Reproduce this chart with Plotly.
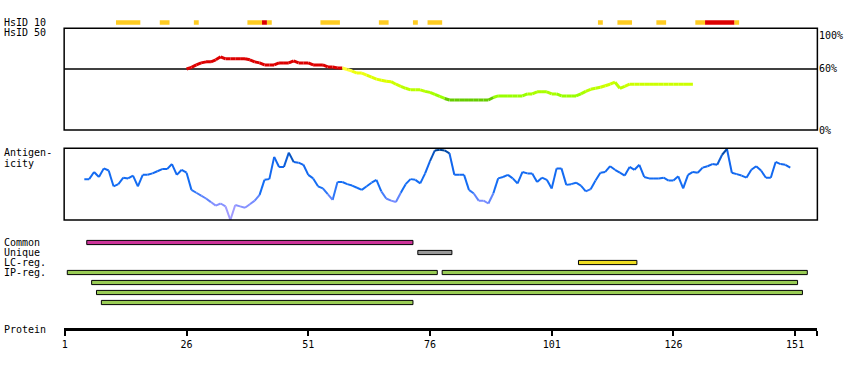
import plotly.graph_objects as go

# ---------------- data ----------------
# HsID 10 identity track (residue ranges)
hsid10_orange = [(12, 16), (21, 22), (28, 28), (39, 41), (43, 43), (54, 57), (66, 67),
                 (73, 73), (76, 78), (111, 111), (115, 117), (123, 124), (131, 132), (139, 139)]
hsid10_red = [(42, 42), (133, 138)]

# HsID 50 identity profile (%)
hsid50_start = 26
hsid50_values = [
    60, 61.6, 64, 66, 67, 67, 69, 72, 70, 70,
    70, 70, 70, 69, 67, 66, 64, 64, 64, 66,
    66, 66, 68, 66, 66, 66, 64, 64, 64, 62,
    62, 61, 61, 59.5, 58, 56, 56, 54, 52, 50,
    49, 48, 47.5, 45, 43, 41, 39.5, 39.5, 39.5, 38,
    37, 35, 33, 31, 29.5, 29.5, 29.5, 29.5, 29.5, 29.5,
    29.5, 29.5, 29.5, 32, 33.5, 33.5, 33.5, 33.5, 33.5, 33.5,
    35.5, 35.5, 37.5, 37.5, 37.5, 35.5, 35.5, 33.5, 33.5, 33.5,
    33.5, 35.5, 38, 40, 41, 42, 43.5, 45, 47, 41,
    43, 45, 45, 45, 45, 45, 45, 45, 45, 45,
    45, 45, 45, 45, 45,
]

# Antigenicity profile (relative 0-100)
antigen_start = 5
antigen_values = [
    57, 57, 67, 60, 72, 69, 47, 50, 59, 58,
    62, 47, 63, 63, 65, 68, 71, 71, 78, 63,
    70, 66, 42, 38, 34, 30, 25, 20, 23, 19,
    0, 21, 19, 17, 22, 27, 35, 56, 57, 88,
    74, 74, 94, 81, 80, 77, 63, 58, 47, 44,
    36, 28, 53, 53, 50, 48, 45, 42, 47, 52,
    56, 40, 30, 27, 25, 38, 50, 57, 56, 51,
    65, 82, 97, 98, 97, 93, 63, 63, 63, 42,
    37, 27, 27, 23, 37, 58, 60, 63, 58, 51,
    67, 65, 65, 53, 59, 56, 44, 72, 72, 49,
    50, 52, 48, 40, 43, 55, 66, 67, 75, 70,
    66, 62, 74, 70, 77, 60, 58, 58, 58, 59,
    55, 55, 61, 44, 63, 67, 66, 73, 75, 78,
    77, 91, 99, 66, 64, 62, 59, 70, 75, 69,
    59, 59, 81, 78, 77, 73,
]

# Region tracks
track_labels = ["Common", "Unique", "LC-reg.", "IP-reg."]
common_regions = [(6, 72)]
unique_regions = [(74, 80)]
lc_regions = [(107, 118)]
ip_regions = [[(2, 77), (79, 153)], [(7, 151)], [(8, 152)], [(9, 72)]]

tick_values = [1, 26, 51, 76, 101, 126, 151]
tick_labels = ["1", "26", "51", "76", "101", "126", "151"]
protein_end = 155.4
pct_labels = [(100, "100%"), (60, "60%"), (0, "0%")]
threshold = 60

# ---------------- layout constants ----------------
W, H = 850, 370
PX_PER_RES = 4.88
X_RES1 = 63.0
FONT = "DejaVu Sans Mono"


def py(Y):
    return (H - Y) / H


def res_at(X):
    return 1 + (X - X_RES1) / PX_PER_RES


FRAME_L, FRAME_R = 62.3, 817.3

fig = go.Figure()


def lerp_color(v, anchors):
    anchors = sorted(anchors)
    if v <= anchors[0][0]:
        c = anchors[0][1]
    elif v >= anchors[-1][0]:
        c = anchors[-1][1]
    else:
        for (v0, c0), (v1, c1) in zip(anchors[:-1], anchors[1:]):
            if v0 <= v <= v1:
                t = (v - v0) / (v1 - v0)
                c = tuple(round(a + (b - a) * t) for a, b in zip(c0, c1))
                break
    return "rgb(%d,%d,%d)" % c


def hsid_color(v):
    if v >= 60:
        return "#DD0000"
    bins = [(57, "#FFFF33"), (53, "#EEFF11"), (47, "#DDFF00"), (42, "#CCFF00"),
            (38, "#BBFF00"), (34, "#AAFF00"), (30, "#99FF00")]
    for lo, col in bins:
        if v >= lo:
            return col
    return "#66CC00"


antigen_anchors = [(0, (185, 165, 255)), (25, (120, 140, 255)), (45, (20, 110, 245)),
                   (80, (17, 102, 238)), (100, (0, 68, 150))]


def add_segments(start, values, color_fn, yaxis, width):
    groups = {}
    for i in range(len(values) - 1):
        col = color_fn(values[i], values[i + 1])
        xs, ys = groups.setdefault(col, ([], []))
        xs += [start + i, start + i + 1, None]
        ys += [values[i], values[i + 1], None]
    for col, (xs, ys) in groups.items():
        fig.add_trace(go.Scatter(x=xs, y=ys, mode="lines", yaxis=yaxis,
                                 line=dict(color=col, width=width),
                                 hoverinfo="skip", showlegend=False))


# HsID 50 line
add_segments(hsid50_start, hsid50_values, lambda a, b: hsid_color(min(a, b)), "y", 3)

# Antigenicity line
add_segments(antigen_start, antigen_values,
             lambda a, b: lerp_color(round((a + b) / 2 / 5) * 5, antigen_anchors), "y2", 2)


def add_bars(regions, row, yaxis, color, outline, width):
    fig.add_trace(go.Bar(
        orientation="h",
        y=[row] * len(regions),
        x=[e - s + 1 for s, e in regions],
        base=[s - 0.5 for s, e in regions],
        width=width,
        yaxis=yaxis,
        marker=dict(color=color, line=dict(color="black", width=1 if outline else 0)),
        hoverinfo="skip", showlegend=False))


# HsID 10 track
add_bars(hsid10_orange, 0, "y4", "#FFCC22", False, 0.45)
add_bars(hsid10_red, 0, "y4", "#DD0000", False, 0.45)

# region tracks
add_bars(common_regions, 0, "y3", "#CC3399", True, 0.42)
add_bars(unique_regions, 1, "y3", "#999999", True, 0.42)
add_bars(lc_regions, 2, "y3", "#EEDD22", True, 0.42)
for k, regs in enumerate(ip_regions):
    add_bars(regs, 3 + k, "y3", "#99CC55", True, 0.42)

# axes
hidden = dict(visible=False, fixedrange=True)
fig.update_layout(
    width=W, height=H, autosize=False,
    margin=dict(l=0, r=0, t=0, b=0, pad=0),
    paper_bgcolor="white", plot_bgcolor="white",
    barmode="overlay", showlegend=False,
    xaxis=dict(domain=[FRAME_L / W, FRAME_R / W],
               range=[res_at(FRAME_L), res_at(FRAME_R)],
               anchor="free", position=py(329.3),
               showline=True, linewidth=3, linecolor="black",
               ticks="outside", ticklen=5, tickwidth=2, tickcolor="black",
               tickvals=tick_values + [protein_end], ticktext=tick_labels + [""],
               tickfont=dict(family=FONT, size=10, color="black"),
               showgrid=False, zeroline=False, fixedrange=True),
    yaxis=dict(domain=[py(130), py(28.3)], range=[0, 100], **hidden),
    yaxis2=dict(domain=[py(220), py(148.3)], range=[0, 100], **hidden),
    yaxis3=dict(domain=[py(307.5), py(237.5)], range=[6.5, -0.5], **hidden),
    yaxis4=dict(domain=[py(27.5), py(17.5)], range=[-0.5, 0.5], **hidden),
)

# frames and threshold line
for yref in ["y domain", "y2 domain"]:
    fig.add_shape(type="rect", xref="x domain", yref=yref, x0=0, x1=1, y0=0, y1=1,
                  line=dict(color="black", width=1.5), layer="above")
fig.add_shape(type="line", xref="x domain", yref="y", x0=0, x1=1, y0=threshold, y1=threshold,
              line=dict(color="black", width=1.5), layer="below")

# text labels
def label(text, Y, X=0):
    fig.add_annotation(text=text, xref="paper", yref="paper", x=X / W, y=py(Y),
                       xanchor="left", yanchor="middle", showarrow=False,
                       font=dict(family=FONT, size=10, color="black"))


label("HsID 10", 22.5)
label("HsID 50", 33)
label("Antigen-", 152.7)
label("icity", 163.3)
for i, t in enumerate(track_labels):
    label(t, 242.5 + 10 * i)
label("Protein", 329.5)

for v, t in pct_labels:
    fig.add_annotation(text=t, xref="paper", yref="y", x=817 / W, y=v,
                       xanchor="left", yanchor="top" if v == 100 else "middle",
                       showarrow=False, font=dict(family=FONT, size=10, color="black"))

fig.write_html("out.html",
               config={"displayModeBar": False, "staticPlot": True},
               post_script="document.body.style.margin='0';document.body.style.overflow='hidden';")
